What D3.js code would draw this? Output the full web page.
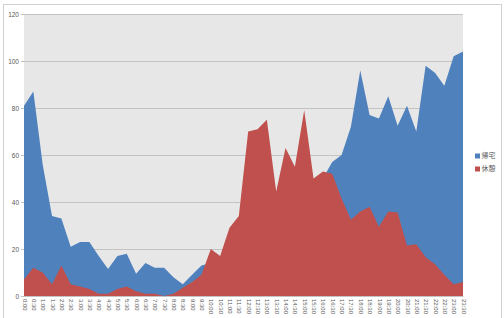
<!DOCTYPE html>
<html lang="ja">
<head>
  <meta charset="UTF-8">
  <title>帰宅 / 休憩</title>
  <style>
    body { margin: 0; padding: 0; background: #fff; }
    svg { display: block; }
    text { font-family: "Liberation Sans", Arial, sans-serif; fill: #595959; }
    .legend text { font-family: "Noto Sans CJK JP", sans-serif; }
  </style>
</head>
<body>
  <div id="chart"></div>
  <script src="https://d3js.org/d3.v7.min.js"></script>
  <script>
    // 時刻（30分ごと）
    const times = [];
    for (let h = 0; h < 24; h++) { times.push(h + ":00", h + ":30"); }

    const seriesNames = ["帰宅", "休憩"];

    // 帰宅（後ろの面）
    const kitaku = [81, 87, 56, 34, 33, 21, 23, 23, 17, 11.5, 17, 18, 9.5, 14, 12, 12,
                    8, 5, 9, 13, 14, 15, 18, 22, 25, 28, 30, 33, 35, 38, 42, 45,
                    50, 57, 60, 72, 96, 77, 75.5, 85, 72.5, 81, 70, 98, 95, 89.5, 102, 104];

    // 休憩（前の面）
    const kyukei = [7, 12, 10, 5, 13, 5, 4, 3, 1, 1, 3, 4, 2, 1, 1, 0,
                    1, 3.5, 6, 9, 20, 17, 29, 34, 70, 71, 75, 44.5, 63, 55, 79, 50,
                    53, 52, 41.5, 32.5, 36, 38, 29.5, 36, 35.5, 21.5, 22, 16.5, 13.5, 9, 5, 6];

    const yTicks = [0, 20, 40, 60, 80, 100, 120];
    const colors = ["#4F81BD", "#C0504D"];

    const width = 504, height = 318;
    const plot = { left: 24, right: 463, top: 14, bottom: 296 };

    const svg = d3.select("#chart").append("svg")
      .attr("width", width)
      .attr("height", height);

    // 外枠
    svg.append("rect")
      .attr("x", 3.5).attr("y", 4.5)
      .attr("width", 498).attr("height", 320)
      .attr("fill", "#fff")
      .attr("stroke", "#d0d0d0");

    const x = d3.scalePoint().domain(times).range([plot.left, plot.right]);
    const y = d3.scaleLinear().domain([0, 120]).range([plot.bottom, plot.top]);

    // プロットエリア
    svg.append("rect")
      .attr("x", plot.left).attr("y", plot.top)
      .attr("width", plot.right - plot.left)
      .attr("height", plot.bottom - plot.top)
      .attr("fill", "#e7e7e7");

    // グリッド線
    svg.append("g")
      .attr("transform", `translate(${plot.left},0)`)
      .call(d3.axisLeft(y).tickValues(yTicks).tickSize(-(plot.right - plot.left)).tickPadding(5))
      .call(g => g.select(".domain").remove())
      .call(g => g.selectAll("line").attr("stroke", "#c3c3c3").attr("x1", -3))
      .call(g => g.selectAll("text").attr("font-size", 6.5).attr("fill", "#595959"));

    const area = values => d3.area()
      .x((d, i) => x(times[i]))
      .y0(y(0))
      .y1(d => y(d))(values);

    [kitaku, kyukei].forEach((vals, k) => {
      svg.append("path")
        .attr("d", area(vals))
        .attr("fill", colors[k]);
    });

    // X軸ラベル（縦書き）
    const xAxis = svg.append("g")
      .attr("transform", `translate(0,${plot.bottom})`)
      .call(d3.axisBottom(x).tickSize(0).tickPadding(0));
    xAxis.select(".domain").attr("stroke", "#c3c3c3");
    xAxis.selectAll("text")
      .attr("font-size", 6)
      .attr("fill", "#595959")
      .attr("transform", "rotate(90)")
      .attr("x", 3)
      .attr("y", 0)
      .attr("dy", "0.32em")
      .attr("text-anchor", "start");

    // 凡例
    const legend = svg.append("g").attr("class", "legend")
      .attr("transform", "translate(475,156)");
    seriesNames.forEach((name, i) => {
      const g = legend.append("g").attr("transform", `translate(0,${i * 13})`);
      g.append("rect").attr("x", 0).attr("y", -2.5).attr("width", 5).attr("height", 5).attr("fill", colors[i]);
      g.append("text").attr("x", 6.5).attr("y", 0).attr("dy", "0.35em")
        .attr("font-size", 7).text(name);
    });
  </script>
</body>
</html>
